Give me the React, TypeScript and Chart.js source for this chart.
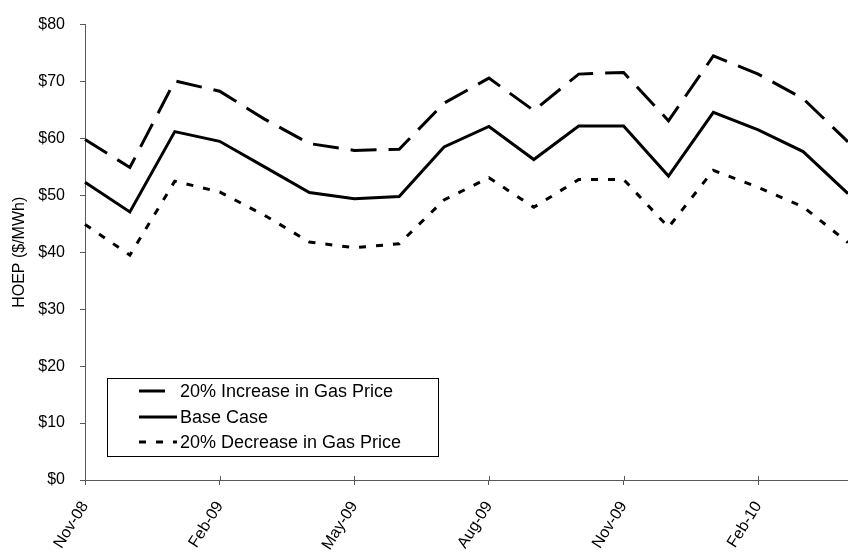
import React, { useEffect, useRef } from "react";
import { Chart, registerables } from "chart.js";

Chart.register(...registerables);

const months = [
  "Nov-08", "Dec-08", "Jan-09", "Feb-09", "Mar-09", "Apr-09", "May-09", "Jun-09", "Jul-09",
  "Aug-09", "Sep-09", "Oct-09", "Nov-09", "Dec-09", "Jan-10", "Feb-10", "Mar-10", "Apr-10",
];

const increaseSeries = [59.8, 54.9, 70.1, 68.3, 63.4, 59.1, 57.9, 58.1, 66.2, 70.6, 64.9, 71.3, 71.6, 63.1, 74.5, 71.3, 67.0, 59.4];
const baseSeries = [52.3, 47.1, 61.2, 59.5, 55.0, 50.5, 49.4, 49.8, 58.5, 62.1, 56.3, 62.2, 62.2, 53.4, 64.6, 61.5, 57.7, 50.3];
const decreaseSeries = [44.9, 39.5, 52.5, 50.6, 46.5, 41.8, 40.8, 41.5, 49.2, 53.1, 47.9, 52.8, 52.8, 44.4, 54.4, 51.4, 48.0, 41.7];

const seriesNames = ["20% Increase in Gas Price", "Base Case", "20% Decrease in Gas Price"];
const yTickValues = [0, 10, 20, 30, 40, 50, 60, 70, 80];

const FONT = "'Liberation Sans', Arial, sans-serif";
const AXIS_COLOR = "#595959";

const legendPlugin = {
  id: "boxLegend",
  afterDraw(chart: any) {
    const ctx = chart.ctx;
    const ds = chart.data.datasets;
    const left = 107.5, top = 378.5, w = 331, h = 78;
    ctx.save();
    ctx.fillStyle = "#fff";
    ctx.fillRect(left, top, w, h);
    ctx.strokeStyle = "#000";
    ctx.lineWidth = 1;
    ctx.strokeRect(left, top, w, h);
    const rows = [391, 417, 442];
    ctx.font = `18px ${FONT}`;
    ctx.textBaseline = "middle";
    ctx.textAlign = "left";
    ds.forEach((d: any, i: number) => {
      const y = rows[i];
      ctx.beginPath();
      ctx.lineWidth = 3;
      ctx.lineCap = "butt";
      ctx.setLineDash(d.borderDash || []);
      ctx.strokeStyle = "#000";
      ctx.moveTo(139, y);
      ctx.lineTo(177, y);
      ctx.stroke();
      ctx.setLineDash([]);
      ctx.fillStyle = "#000";
      ctx.fillText(d.label, 180, y + 1);
    });
    const xs = chart.scales.x;
    const bottom = chart.chartArea.bottom;
    ctx.strokeStyle = AXIS_COLOR;
    ctx.lineWidth = 1;
    for (let i = 0; i < months.length; i += 3) {
      const px = Math.round(xs.getPixelForValue(i)) + 0.5;
      ctx.beginPath();
      ctx.moveTo(px, bottom - 4);
      ctx.lineTo(px, bottom);
      ctx.stroke();
    }
    ctx.restore();
  },
};

export default function App() {
  const ref = useRef<HTMLCanvasElement | null>(null);
  useEffect(() => {
    if (!ref.current) return;
    Chart.defaults.font.family = FONT;
    Chart.defaults.font.size = 16;
    Chart.defaults.color = "#000";
    const chart = new Chart(ref.current, {
      type: "line",
      data: {
        labels: months,
        datasets: [
          {
            label: seriesNames[0],
            data: increaseSeries,
            borderColor: "#000",
            borderWidth: 3,
            borderDash: [26, 12],
            pointRadius: 0,
            tension: 0,
            fill: false,
          },
          {
            label: seriesNames[1],
            data: baseSeries,
            borderColor: "#000",
            borderWidth: 3,
            pointRadius: 0,
            tension: 0,
            fill: false,
          },
          {
            label: seriesNames[2],
            data: decreaseSeries,
            borderColor: "#000",
            borderWidth: 3,
            borderDash: [7, 10],
            pointRadius: 0,
            tension: 0,
            fill: false,
          },
        ],
      },
      options: {
        animation: false,
        responsive: true,
        maintainAspectRatio: false,
        layout: { padding: { top: 15, right: 0, left: 0, bottom: 0 } },
        plugins: { legend: { display: false }, tooltip: { enabled: false } },
        scales: {
          x: {
            type: "category",
            offset: false,
            afterFit: (s: any) => {
              s.height = 72;
              s.paddingRight = 0;
              s.paddingLeft = 0;
            },
            grid: {
              drawOnChartArea: false,
              drawTicks: true,
              tickLength: 5,
              color: (c: any) => (c.index % 3 === 0 ? AXIS_COLOR : "rgba(0,0,0,0)"),
            },
            border: { display: true, color: AXIS_COLOR, width: 1 },
            ticks: {
              autoSkip: false,
              maxRotation: 58,
              minRotation: 58,
              padding: 13,
              color: "#000",
              font: { size: 16, family: FONT },
              callback: (_v: any, i: number) => (i % 3 === 0 ? months[i] : ""),
            },
          },
          y: {
            min: 0,
            max: 80,
            afterFit: (s: any) => { s.width = 85; },
            afterBuildTicks: (s: any) => { s.ticks = yTickValues.map((v) => ({ value: v })); },
            grid: { drawOnChartArea: false, drawTicks: true, tickLength: 5, color: AXIS_COLOR },
            border: { display: true, color: AXIS_COLOR, width: 1 },
            ticks: {
              padding: 15,
              color: "#000",
              font: { size: 16, family: FONT },
              callback: (v: any) => "$" + v,
            },
            title: {
              display: true,
              text: "HOEP ($/MWh)",
              color: "#000",
              font: { size: 16, family: FONT },
              padding: { top: 10, bottom: 0 },
            },
          },
        },
      },
      plugins: [legendPlugin],
    });
    return () => chart.destroy();
  }, []);
  return (
    <div style={{ position: "absolute", left: 0, top: 0, width: 848, height: 552 }}>
      <canvas ref={ref} />
    </div>
  );
}
